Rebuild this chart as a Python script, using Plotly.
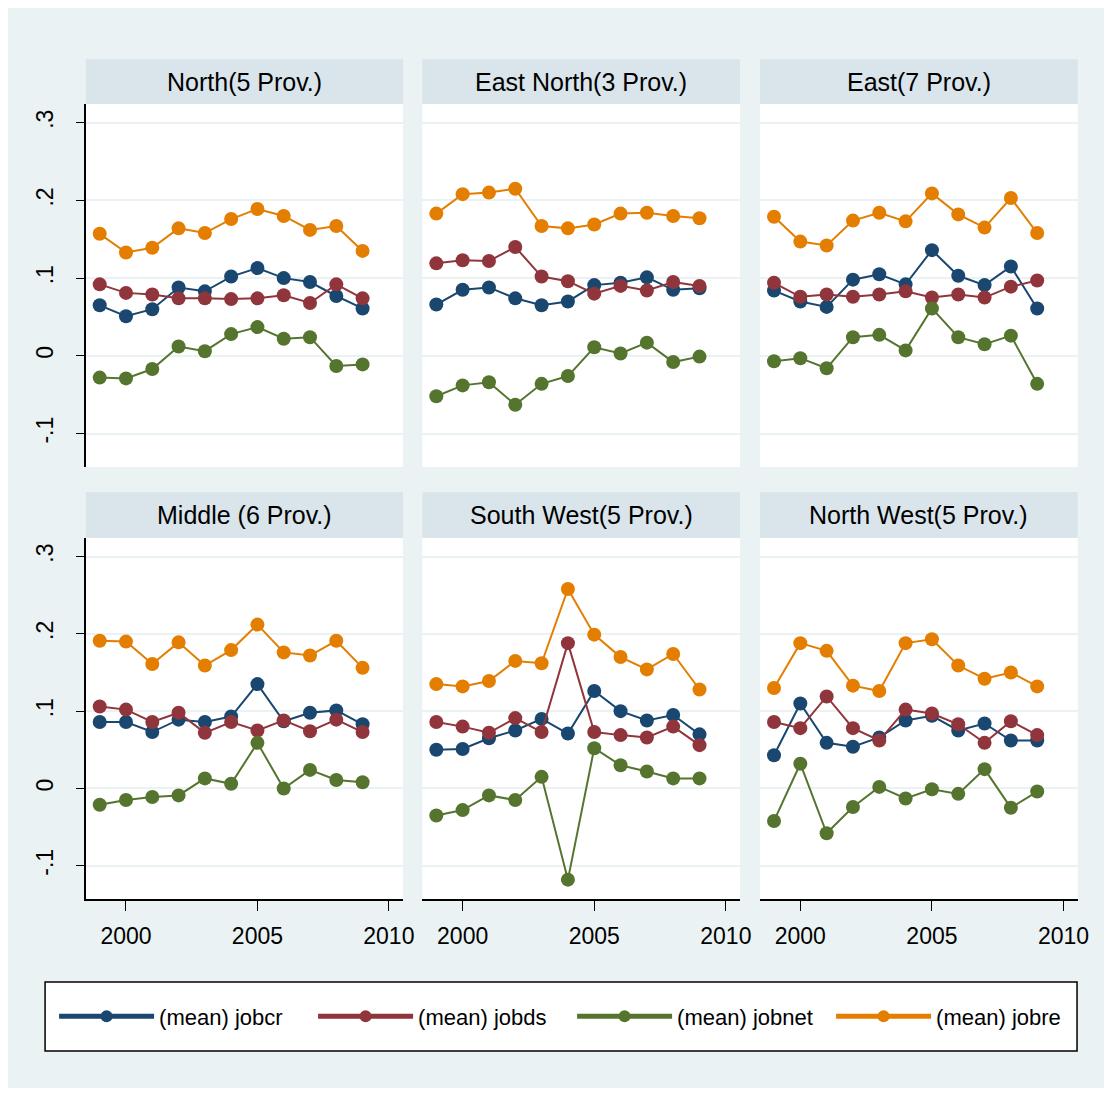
import plotly.graph_objects as go

# The page body has an 8px margin on every side; the photographed page also
# comes out slightly compressed horizontally, so x positions are compensated.
OFF = 8
XSCALE = 0.99
WIN_W, WIN_H = 1112, 1096
W, H = WIN_W - 2 * OFF, WIN_H - 2 * OFF

YEARS = [1999, 2000, 2001, 2002, 2003, 2004, 2005, 2006, 2007, 2008, 2009]

REGIONS = ["North(5 Prov.)", "East North(3 Prov.)", "East(7 Prov.)",
           "Middle (6 Prov.)", "South West(5 Prov.)", "North West(5 Prov.)"]

SERIES_NAMES = ["(mean) jobcr", "(mean) jobds", "(mean) jobnet", "(mean) jobre"]

# North
NORTH_JOBCR = [0.065, 0.051, 0.060, 0.088, 0.083, 0.102, 0.113, 0.100, 0.095, 0.077, 0.061]
NORTH_JOBDS = [0.092, 0.081, 0.079, 0.074, 0.074, 0.073, 0.074, 0.078, 0.068, 0.092, 0.074]
NORTH_JOBNET = [-0.028, -0.029, -0.017, 0.012, 0.006, 0.028, 0.037, 0.022, 0.024, -0.013, -0.011]
NORTH_JOBRE = [0.157, 0.133, 0.139, 0.164, 0.158, 0.176, 0.189, 0.180, 0.162, 0.167, 0.135]
# East North
EASTNORTH_JOBCR = [0.066, 0.085, 0.088, 0.074, 0.065, 0.070, 0.091, 0.094, 0.101, 0.085, 0.087]
EASTNORTH_JOBDS = [0.119, 0.123, 0.122, 0.140, 0.102, 0.096, 0.080, 0.090, 0.084, 0.095, 0.090]
EASTNORTH_JOBNET = [-0.052, -0.038, -0.034, -0.063, -0.036, -0.026, 0.011, 0.003, 0.017, -0.008, -0.001]
EASTNORTH_JOBRE = [0.183, 0.208, 0.210, 0.215, 0.167, 0.164, 0.169, 0.183, 0.184, 0.180, 0.177]
# East
EAST_JOBCR = [0.084, 0.070, 0.063, 0.098, 0.105, 0.092, 0.136, 0.103, 0.091, 0.115, 0.061]
EAST_JOBDS = [0.094, 0.076, 0.079, 0.076, 0.079, 0.083, 0.075, 0.079, 0.075, 0.089, 0.097]
EAST_JOBNET = [-0.007, -0.003, -0.016, 0.024, 0.027, 0.007, 0.061, 0.024, 0.015, 0.026, -0.036]
EAST_JOBRE = [0.179, 0.147, 0.142, 0.174, 0.184, 0.173, 0.209, 0.182, 0.165, 0.203, 0.158]
# Middle
MIDDLE_JOBCR = [0.086, 0.086, 0.073, 0.089, 0.086, 0.093, 0.135, 0.087, 0.098, 0.101, 0.083]
MIDDLE_JOBDS = [0.106, 0.102, 0.086, 0.098, 0.072, 0.086, 0.075, 0.088, 0.074, 0.089, 0.073]
MIDDLE_JOBNET = [-0.021, -0.015, -0.011, -0.009, 0.013, 0.006, 0.059, 0.000, 0.024, 0.011, 0.008]
MIDDLE_JOBRE = [0.191, 0.190, 0.161, 0.189, 0.159, 0.179, 0.212, 0.176, 0.172, 0.191, 0.156]
# South West
SOUTHWEST_JOBCR = [0.050, 0.051, 0.065, 0.075, 0.090, 0.071, 0.126, 0.100, 0.088, 0.095, 0.070]
SOUTHWEST_JOBDS = [0.086, 0.080, 0.072, 0.091, 0.073, 0.188, 0.073, 0.069, 0.066, 0.080, 0.056]
SOUTHWEST_JOBNET = [-0.035, -0.028, -0.009, -0.015, 0.015, -0.118, 0.052, 0.030, 0.022, 0.013, 0.013]
SOUTHWEST_JOBRE = [0.135, 0.132, 0.139, 0.165, 0.162, 0.258, 0.199, 0.170, 0.154, 0.174, 0.128]
# North West
NORTHWEST_JOBCR = [0.043, 0.110, 0.059, 0.054, 0.066, 0.088, 0.094, 0.075, 0.084, 0.062, 0.062]
NORTHWEST_JOBDS = [0.086, 0.078, 0.119, 0.078, 0.062, 0.102, 0.097, 0.083, 0.059, 0.087, 0.069]
NORTHWEST_JOBNET = [-0.042, 0.032, -0.058, -0.024, 0.002, -0.013, -0.001, -0.007, 0.025, -0.025, -0.004]
NORTHWEST_JOBRE = [0.130, 0.188, 0.178, 0.133, 0.126, 0.188, 0.193, 0.159, 0.142, 0.150, 0.132]

PANEL_DATA = [
    [NORTH_JOBCR, NORTH_JOBDS, NORTH_JOBNET, NORTH_JOBRE],
    [EASTNORTH_JOBCR, EASTNORTH_JOBDS, EASTNORTH_JOBNET, EASTNORTH_JOBRE],
    [EAST_JOBCR, EAST_JOBDS, EAST_JOBNET, EAST_JOBRE],
    [MIDDLE_JOBCR, MIDDLE_JOBDS, MIDDLE_JOBNET, MIDDLE_JOBRE],
    [SOUTHWEST_JOBCR, SOUTHWEST_JOBDS, SOUTHWEST_JOBNET, SOUTHWEST_JOBRE],
    [NORTHWEST_JOBCR, NORTHWEST_JOBDS, NORTHWEST_JOBNET, NORTHWEST_JOBRE],
]

Y_TICKVALS = [-0.1, 0, 0.1, 0.2, 0.3]
Y_TICKTEXT = ["-.1", "0", ".1", ".2", ".3"]
X_TICKVALS = [2000, 2005, 2010]
X_TICKTEXT = ["2000", "2005", "2010"]

COLORS = ["#1a476f", "#90353b", "#55752f", "#e37e00"]
BG = "#eaf2f3"
STRIP = "#d9e5eb"
FONT = "Liberation Sans Narrow, Arial Narrow, Liberation Sans, Arial, sans-serif"


def px(x):
    """target pixel x -> paper fraction"""
    return (x / XSCALE - OFF) / W


def py(y):
    """target pixel y -> paper fraction"""
    return 1 - (y - OFF) / H


COL_X = [(85.7, 403.0), (422.3, 740.0), (760.0, 1077.7)]
ROW_Y = [(104.0, 467.0), (538.0, 899.0)]
STRIP_Y = [(59.3, 104.0), (492.3, 538.0)]

fig = go.Figure()

for i, region in enumerate(REGIONS):
    r, c = divmod(i, 3)
    ax = "" if i == 0 else str(i + 1)
    for s, name in enumerate(SERIES_NAMES):
        fig.add_trace(go.Scatter(
            x=YEARS, y=PANEL_DATA[i][s], mode="lines+markers",
            name=name, legendgroup=name, showlegend=(i == 0),
            line=dict(color=COLORS[s], width=2),
            marker=dict(color=COLORS[s], size=14, symbol="circle"),
            xaxis="x" + ax, yaxis="y" + ax, cliponaxis=False,
        ))
    x0, x1 = COL_X[c]
    y0, y1 = ROW_Y[r]
    xa = dict(domain=[px(x0), px(x1)], range=[1998.47, 2010.54], anchor="y" + ax,
              showgrid=False, zeroline=False, fixedrange=True)
    if r == 1:
        xa.update(showline=True, linecolor="black", linewidth=1.5, ticks="outside",
                  ticklen=10, tickwidth=1, tickcolor="black", tickvals=X_TICKVALS,
                  ticktext=X_TICKTEXT, ticklabelstandoff=6,
                  tickfont=dict(family=FONT, size=23, color="black"))
    else:
        xa.update(showline=False, showticklabels=False, ticks="")
    ya = dict(domain=[py(y1), py(y0)], range=[-0.143, 0.324], anchor="x" + ax,
              showgrid=True, gridcolor=BG, gridwidth=2, zeroline=False,
              tickvals=Y_TICKVALS, ticktext=Y_TICKTEXT, fixedrange=True)
    if c == 0:
        ya.update(showline=True, linecolor="black", linewidth=1.5, ticks="outside",
                  ticklen=8, tickwidth=1, tickcolor="black", tickangle=-90,
                  ticklabelstandoff=14,
                  tickfont=dict(family=FONT, size=23, color="black"))
    else:
        ya.update(showline=False, showticklabels=False, ticks="")
    fig.layout["xaxis" + ax] = xa
    fig.layout["yaxis" + ax] = ya

shapes = []
annotations = []
for i, region in enumerate(REGIONS):
    r, c = divmod(i, 3)
    x0, x1 = COL_X[c]
    s0, s1 = STRIP_Y[r]
    shapes.append(dict(type="rect", xref="paper", yref="paper",
                       x0=px(x0), x1=px(x1), y0=py(s1), y1=py(s0),
                       fillcolor=STRIP, line=dict(width=0), layer="below"))
    annotations.append(dict(text=region, xref="paper", yref="paper",
                            x=px((x0 + x1) / 2), y=py((s0 + s1) / 2),
                            xanchor="center", yanchor="middle", showarrow=False,
                            font=dict(family=FONT, size=25, color="black")))

# legend frame
shapes.append(dict(type="rect", xref="paper", yref="paper",
                   x0=px(45), x1=px(1077), y0=py(1051), y1=py(982),
                   fillcolor="white", line=dict(color="black", width=1.5), layer="below"))

fig.update_layout(
    width=W, height=H, margin=dict(l=0, r=0, t=0, b=0),
    paper_bgcolor=BG, plot_bgcolor="white",
    shapes=shapes, annotations=annotations,
    showlegend=True,
    legend=dict(orientation="h", x=px(54), y=py(1016.5), xanchor="left", yanchor="middle",
                bgcolor="rgba(0,0,0,0)", borderwidth=0,
                font=dict(family=FONT, size=22, color="black"),
                itemwidth=95, entrywidth=149, entrywidthmode="pixels",
                tracegroupgap=0, itemsizing="constant"),
)

fig.write_html("out.html")
